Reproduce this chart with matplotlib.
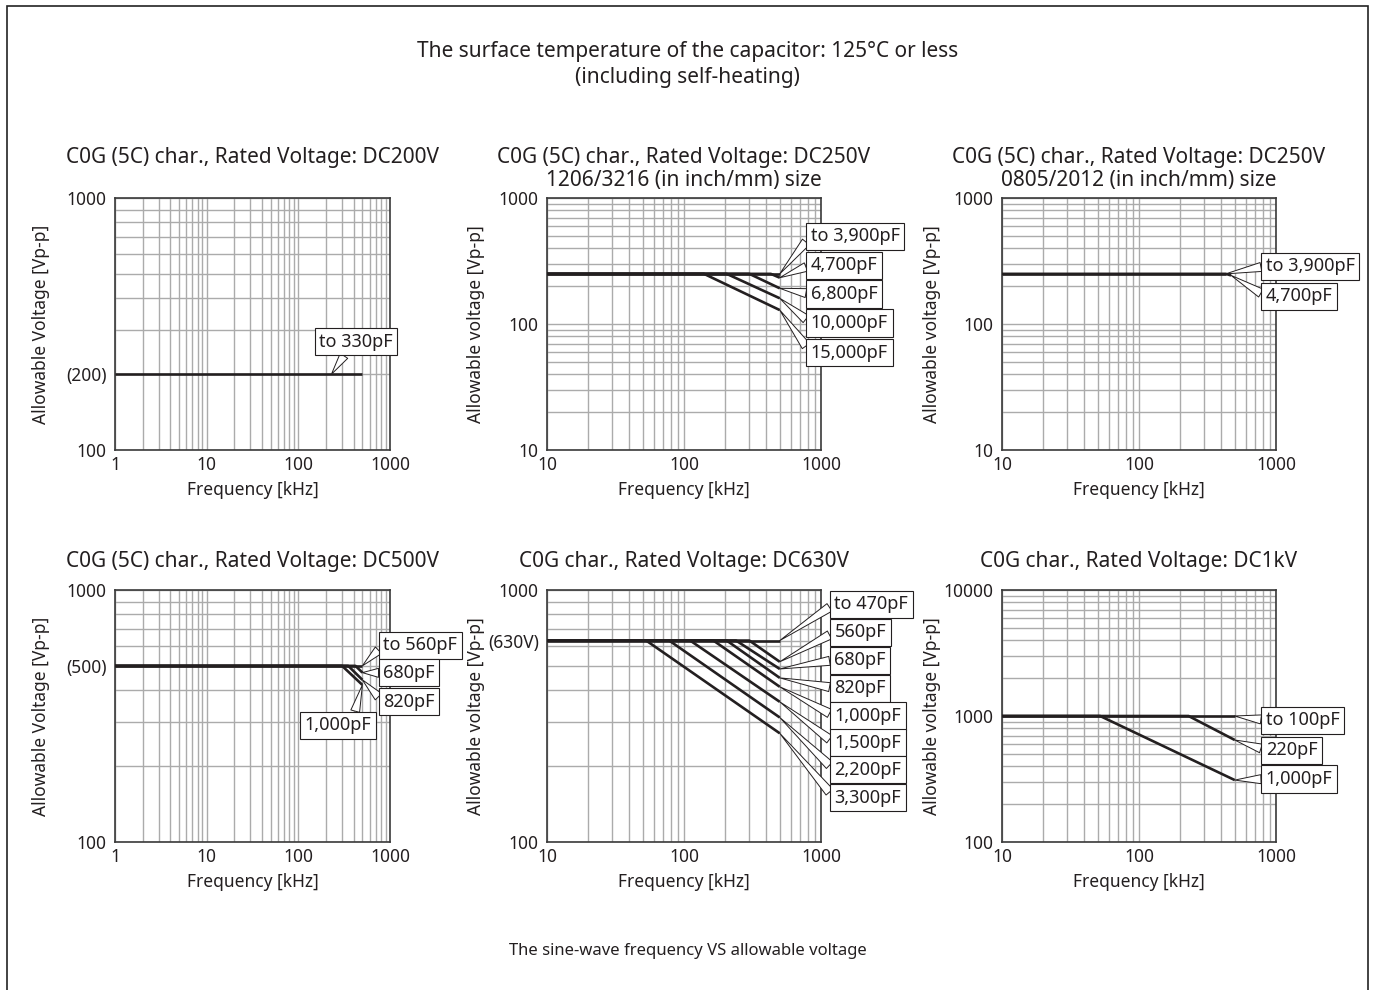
import numpy as np
import matplotlib
matplotlib.use("Agg")
import matplotlib.pyplot as plt
from matplotlib.patches import Rectangle
from matplotlib.ticker import LogLocator, NullFormatter

plt.rcParams['font.family'] = ['Noto Sans', 'DejaVu Sans']

W, H = 1375, 990

# ---- values ----
# panel 1: C0G (5C), DC200V
p1_labels = ["to 330pF"]
p1_freq = [[1, 500]]
p1_volt = [[200, 200]]

# panel 2: C0G (5C), DC250V, 1206/3216 size
p2_labels = ["to 3,900pF", "4,700pF", "6,800pF", "10,000pF", "15,000pF"]
p2_freq = [[10, 500], [10, 430, 500], [10, 300, 500], [10, 205, 500], [10, 140, 500]]
p2_volt = [[250, 250], [250, 250, 233], [250, 250, 192], [250, 250, 160], [250, 250, 129]]

# panel 3: C0G (5C), DC250V, 0805/2012 size
p3_labels = ["to 3,900pF", "4,700pF"]
p3_freq = [[10, 430], [10, 430, 470]]
p3_volt = [[250, 250], [250, 250, 243]]

# panel 4: C0G (5C), DC500V
p4_labels = ["to 560pF", "680pF", "820pF", "1,000pF"]
p4_freq = [[1, 500], [1, 420, 500], [1, 350, 500], [1, 300, 500]]
p4_volt = [[500, 500], [500, 500, 470], [500, 500, 440], [500, 500, 420]]

# panel 5: C0G, DC630V
p5_labels = ["to 470pF", "560pF", "680pF", "820pF", "1,000pF", "1,500pF", "2,200pF", "3,300pF"]
p5_freq = [[10, 500], [10, 300, 500], [10, 240, 500], [10, 205, 500],
           [10, 164, 500], [10, 111, 500], [10, 78, 500], [10, 53, 500]]
p5_volt = [[630, 630], [630, 630, 519], [630, 630, 486], [630, 630, 448],
           [630, 630, 413], [630, 630, 360], [630, 630, 312], [630, 630, 270]]

# panel 6: C0G, DC1kV
p6_labels = ["to 100pF", "220pF", "1,000pF"]
p6_freq = [[10, 500], [10, 230, 500], [10, 52, 500]]
p6_volt = [[1000, 1000], [1000, 1000, 645], [1000, 1000, 310]]

LINE = '#231f20'
GRID = '#ababab'
TXT = '#231f20'

fig = plt.figure(figsize=(W / 100, H / 100), dpi=100)
fig.patches.append(Rectangle((6.5 / W, -0.02), 1361 / W, 1 - 6 / H + 0.02,
                             transform=fig.transFigure, fill=False, ec='#222222', lw=1.2))

fig.text(0.5, 1 - 52 / H, "The surface temperature of the capacitor: 125°C or less",
         ha='center', va='center', fontsize=15, color=TXT)
fig.text(0.5, 1 - 77 / H, "(including self-heating)",
         ha='center', va='center', fontsize=15, color=TXT)
fig.text(0.5, 1 - 951 / H, "The sine-wave frequency VS allowable voltage",
         ha='center', va='center', fontsize=12, color=TXT)


def panel(rect, xlim, ylim, xticks, yticks, yticklabels, titles, ylabel, ylab_x):
    l, t, r, b = rect
    ax = fig.add_axes([l / W, 1 - b / H, (r - l) / W, (b - t) / H])
    ax.set_xscale('log')
    ax.set_yscale('log')
    ax.set_xlim(*xlim)
    ax.set_ylim(*ylim)
    ax.set_xticks(xticks)
    ax.set_xticklabels([str(x) for x in xticks])
    ax.set_yticks(yticks)
    ax.set_yticklabels(yticklabels)
    for axis in (ax.xaxis, ax.yaxis):
        axis.set_minor_locator(LogLocator(base=10, subs=np.arange(2, 10), numticks=30))
        axis.set_minor_formatter(NullFormatter())
    ax.tick_params(which='both', length=0, labelsize=12.5, colors=TXT)
    ax.tick_params(axis='y', pad=6)
    ax.tick_params(axis='x', pad=4)
    ax.grid(which='both', color=GRID, lw=1.0)
    ax.set_axisbelow(True)
    for s in ax.spines.values():
        s.set_color('#3a3a3a')
        s.set_linewidth(1.2)
    for txt, ty in titles:
        ax.text(0.5, (b - ty) / (b - t), txt, transform=ax.transAxes,
                ha='center', va='center', fontsize=15, color=TXT)
    ax.text(0.5, -40 / (b - t), "Frequency [kHz]", transform=ax.transAxes,
            ha='center', va='center', fontsize=12.5, color=TXT)
    ax.text((ylab_x - l) / (r - l), 0.5, ylabel, transform=ax.transAxes, rotation=90,
            ha='center', va='center', fontsize=12.5, color=TXT)
    return ax


def curves(ax, labels, freqs, volts, boxes, anchors=None, relpos=None):
    for i, (lab, f, v) in enumerate(zip(labels, freqs, volts)):
        ax.plot(f, v, color=LINE, lw=1.9, solid_capstyle='butt', zorder=3)
        xy = (f[-1], v[-1]) if anchors is None or anchors[i] is None else anchors[i]
        rp = (0, 0.5) if relpos is None or relpos[i] is None else relpos[i]
        ax.annotate(lab, xy=xy, xytext=boxes[i], textcoords='axes fraction',
                    ha='left', va='center', fontsize=13, color=TXT,
                    bbox=dict(boxstyle='square,pad=0.25', fc='white', ec=LINE, lw=0.8),
                    arrowprops=dict(arrowstyle='wedge,tail_width=0.5', fc='white', ec=LINE,
                                    lw=0.7, shrinkA=0, shrinkB=0, relpos=rp),
                    annotation_clip=False, zorder=5)


top, bot = (198, 450), (590, 842)
cols = [(115, 390), (547, 821), (1002, 1276)]

# top row
ax1 = panel((cols[0][0], top[0], cols[0][1], top[1]), (1, 1000), (100, 1000),
            [1, 10, 100, 1000], [100, 200, 1000], ["100", "(200)", "1000"],
            [("C0G (5C) char., Rated Voltage: DC200V", 157)],
            "Allowable Voltage [Vp-p]", 41)
curves(ax1, p1_labels, p1_freq, p1_volt, [(0.743, 0.429)],
       anchors=[(230, p1_volt[0][0])], relpos=[(0.38, 0)])

ax2 = panel((cols[1][0], top[0], cols[1][1], top[1]), (10, 1000), (10, 1000),
            [10, 100, 1000], [10, 100, 1000], ["10", "100", "1000"],
            [("C0G (5C) char., Rated Voltage: DC250V", 157),
             ("1206/3216 (in inch/mm) size", 180)],
            "Allowable voltage [Vp-p]", 476)
curves(ax2, p2_labels, p2_freq, p2_volt,
       [(0.963, 0.849), (0.963, 0.734), (0.963, 0.619), (0.963, 0.504), (0.963, 0.386)])

ax3 = panel((cols[2][0], top[0], cols[2][1], top[1]), (10, 1000), (10, 1000),
            [10, 100, 1000], [10, 100, 1000], ["10", "100", "1000"],
            [("C0G (5C) char., Rated Voltage: DC250V", 157),
             ("0805/2012 (in inch/mm) size", 180)],
            "Allowable voltage [Vp-p]", 932)
curves(ax3, p3_labels, p3_freq, p3_volt, [(0.963, 0.730), (0.963, 0.611)])

# bottom row
ax4 = panel((cols[0][0], bot[0], cols[0][1], bot[1]), (1, 1000), (100, 1000),
            [1, 10, 100, 1000], [100, 500, 1000], ["100", "(500)", "1000"],
            [("C0G (5C) char., Rated Voltage: DC500V", 562)],
            "Allowable Voltage [Vp-p]", 41)
curves(ax4, p4_labels, p4_freq, p4_volt,
       [(0.976, 0.780), (0.976, 0.671), (0.976, 0.556), (0.689, 0.464)],
       relpos=[None, None, None, (0.74, 1)])

ax5 = panel((cols[1][0], bot[0], cols[1][1], bot[1]), (10, 1000), (100, 1000),
            [10, 100, 1000], [100, 630, 1000], ["100", "(630V)", "1000"],
            [("C0G char., Rated Voltage: DC630V", 562)],
            "Allowable voltage [Vp-p]", 476)
curves(ax5, p5_labels, p5_freq, p5_volt,
       [(1.049, 0.944), (1.049, 0.832), (1.049, 0.722), (1.049, 0.611),
        (1.049, 0.500), (1.049, 0.393), (1.049, 0.286), (1.049, 0.175)])

ax6 = panel((cols[2][0], bot[0], cols[2][1], bot[1]), (10, 1000), (100, 10000),
            [10, 100, 1000], [100, 1000, 10000], ["100", "1000", "10000"],
            [("C0G char., Rated Voltage: DC1kV", 562)],
            "Allowable voltage [Vp-p]", 932)
curves(ax6, p6_labels, p6_freq, p6_volt, [(0.963, 0.484), (0.963, 0.365), (0.963, 0.250)])

fig.savefig("out.png", dpi=100)
